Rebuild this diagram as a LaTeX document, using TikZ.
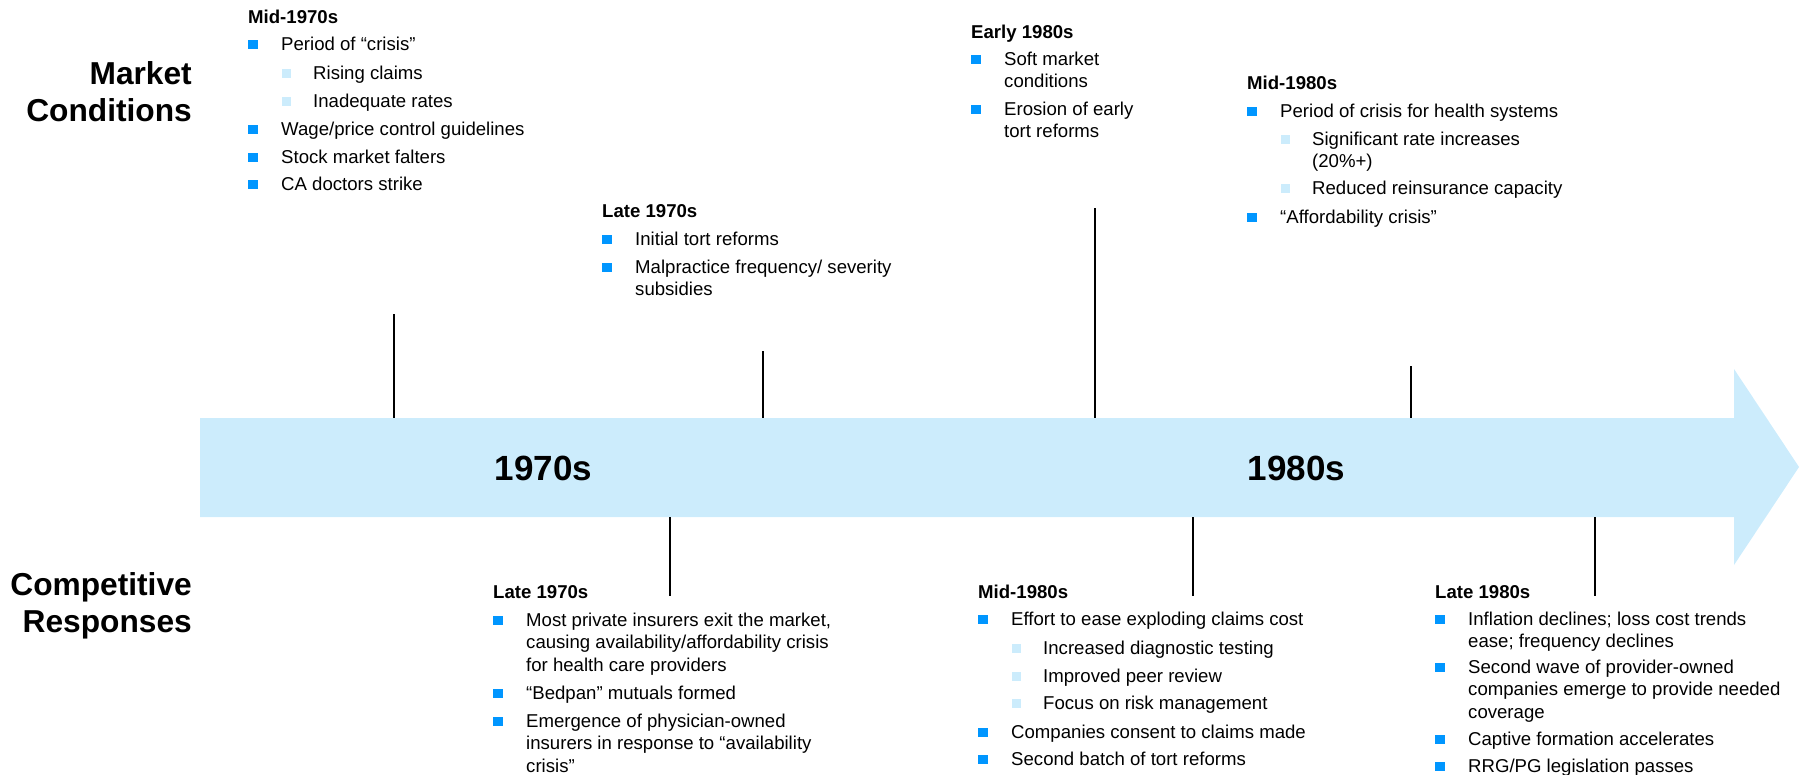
\documentclass[tikz,border=0pt]{standalone}
\usepackage{fontspec}
\setmainfont{Liberation Sans}
\definecolor{bulblue}{RGB}{0,150,255}
\definecolor{lightblue}{RGB}{204,236,252}
\newcommand{\mlines}[1]{\begin{tabular}[t]{@{}l@{}}#1\end{tabular}}
\newcommand{\bitem}[4]{\node[bulsq] (#1b) at (#2+5,#3-6) {}; \node[txt] (#1) at (#2+33,#3) {\mlines{#4}};}
\newcommand{\sitem}[4]{\node[subsq] (#1b) at (#2+38.5,#3-6) {}; \node[txt] (#1) at (#2+65,#3) {\mlines{#4}};}
\begin{document}
\begin{tikzpicture}[x=1pt,y=-1pt,
  txt/.style={anchor=base west, inner sep=0pt, font=\fontsize{18.6}{22.3}\selectfont},
  hdr/.style={anchor=base west, inner sep=0pt, font=\fontsize{18.6}{22.3}\selectfont\bfseries},
  biglabel/.style={anchor=base east, inner sep=0pt, font=\fontsize{31.7}{37}\selectfont\bfseries},
  decade/.style={anchor=base, inner sep=0pt, font=\fontsize{35}{40}\selectfont\bfseries},
  bulsq/.style={fill=bulblue, minimum size=9.5pt, inner sep=0pt},
  subsq/.style={fill=lightblue, minimum size=9.5pt, inner sep=0pt},
  tickln/.style={line width=2pt, black}]
\useasboundingbox (0,0) rectangle (1805,774);

% timeline arrow
\fill[lightblue] (200,418) -- (1734,418) -- (1734,369) -- (1799,467) -- (1734,565) -- (1734,517) -- (200,517) -- cycle;

% tick marks
\coordinate (t1a) at (394,314); \coordinate (t1b) at (394,418);
\coordinate (t2a) at (763,351); \coordinate (t2b) at (763,418);
\coordinate (t3a) at (1095,208); \coordinate (t3b) at (1095,418);
\coordinate (t4a) at (1411,366); \coordinate (t4b) at (1411,418);
\coordinate (b1a) at (670,517); \coordinate (b1b) at (670,596);
\coordinate (b2a) at (1193,517); \coordinate (b2b) at (1193,596);
\coordinate (b3a) at (1595,517); \coordinate (b3b) at (1595,596);
\draw[tickln] (t1a) -- (t1b);
\draw[tickln] (t2a) -- (t2b);
\draw[tickln] (t3a) -- (t3b);
\draw[tickln] (t4a) -- (t4b);
\draw[tickln] (b1a) -- (b1b);
\draw[tickln] (b2a) -- (b2b);
\draw[tickln] (b3a) -- (b3b);

% decade labels
\node[decade] (d70) at (543.5,480) {1970s};
\node[decade] (d80) at (1296.5,480) {1980s};

% row labels
\node[biglabel] (mc) at (192,84.5) {\begin{tabular}[t]{@{}r@{}}Market\\Conditions\end{tabular}};
\node[biglabel] (cr) at (192,595) {\begin{tabular}[t]{@{}r@{}}Competitive\\Responses\end{tabular}};

% Mid-1970s
\node[hdr] (h1) at (248,23.5) {Mid-1970s};
\bitem{a1}{248}{50.5}{Period of “crisis”}
\sitem{a2}{248}{79.5}{Rising claims}
\sitem{a3}{248}{107.5}{Inadequate rates}
\bitem{a4}{248}{135.5}{Wage/price control guidelines}
\bitem{a5}{248}{163.5}{Stock market falters}
\bitem{a6}{248}{190.5}{CA doctors strike}

% Late 1970s (upper)
\node[hdr] (h2) at (602,217.5) {Late 1970s};
\bitem{c1}{602}{245.5}{Initial tort reforms}
\bitem{c2}{602}{273.5}{Malpractice frequency/ severity\\subsidies}

% Early 1980s
\node[hdr] (h3) at (971,38.5) {Early 1980s};
\bitem{e1}{971}{65.5}{Soft market\\conditions}
\bitem{e2}{971}{115.5}{Erosion of early\\tort reforms}

% Mid-1980s (upper)
\node[hdr] (h4) at (1247,89.5) {Mid-1980s};
\bitem{m1}{1247}{117.5}{Period of crisis for health systems}
\sitem{m2}{1247}{145.5}{Significant rate increases\\(20\%+)}
\sitem{m3}{1247}{194.5}{Reduced reinsurance capacity}
\bitem{m4}{1247}{223.5}{“Affordability crisis”}

% Late 1970s (lower)
\node[hdr] (h5) at (493,598.5) {Late 1970s};
\bitem{l1}{493}{626.5}{Most private insurers exit the market,\\causing availability/affordability crisis\\for health care providers}
\bitem{l2}{493}{699.5}{“Bedpan” mutuals formed}
\bitem{l3}{493}{727.5}{Emergence of physician-owned\\insurers in response to “availability\\crisis”}

% Mid-1980s (lower)
\node[hdr] (h6) at (978,598.5) {Mid-1980s};
\bitem{n1}{978}{625.5}{Effort to ease exploding claims cost}
\sitem{n2}{978}{654.5}{Increased diagnostic testing}
\sitem{n3}{978}{682.5}{Improved peer review}
\sitem{n4}{978}{709.5}{Focus on risk management}
\bitem{n5}{978}{738.5}{Companies consent to claims made}
\bitem{n6}{978}{765.5}{Second batch of tort reforms}

% Late 1980s (lower)
\node[hdr] (h7) at (1435,598.5) {Late 1980s};
\bitem{r1}{1435}{625.5}{Inflation declines; loss cost trends\\ease; frequency declines}
\bitem{r2}{1435}{673.5}{Second wave of provider-owned\\companies emerge to provide needed\\coverage}
\bitem{r3}{1435}{745.5}{Captive formation accelerates}
\bitem{r4}{1435}{772.5}{RRG/PG legislation passes}
\end{tikzpicture}
\end{document}
